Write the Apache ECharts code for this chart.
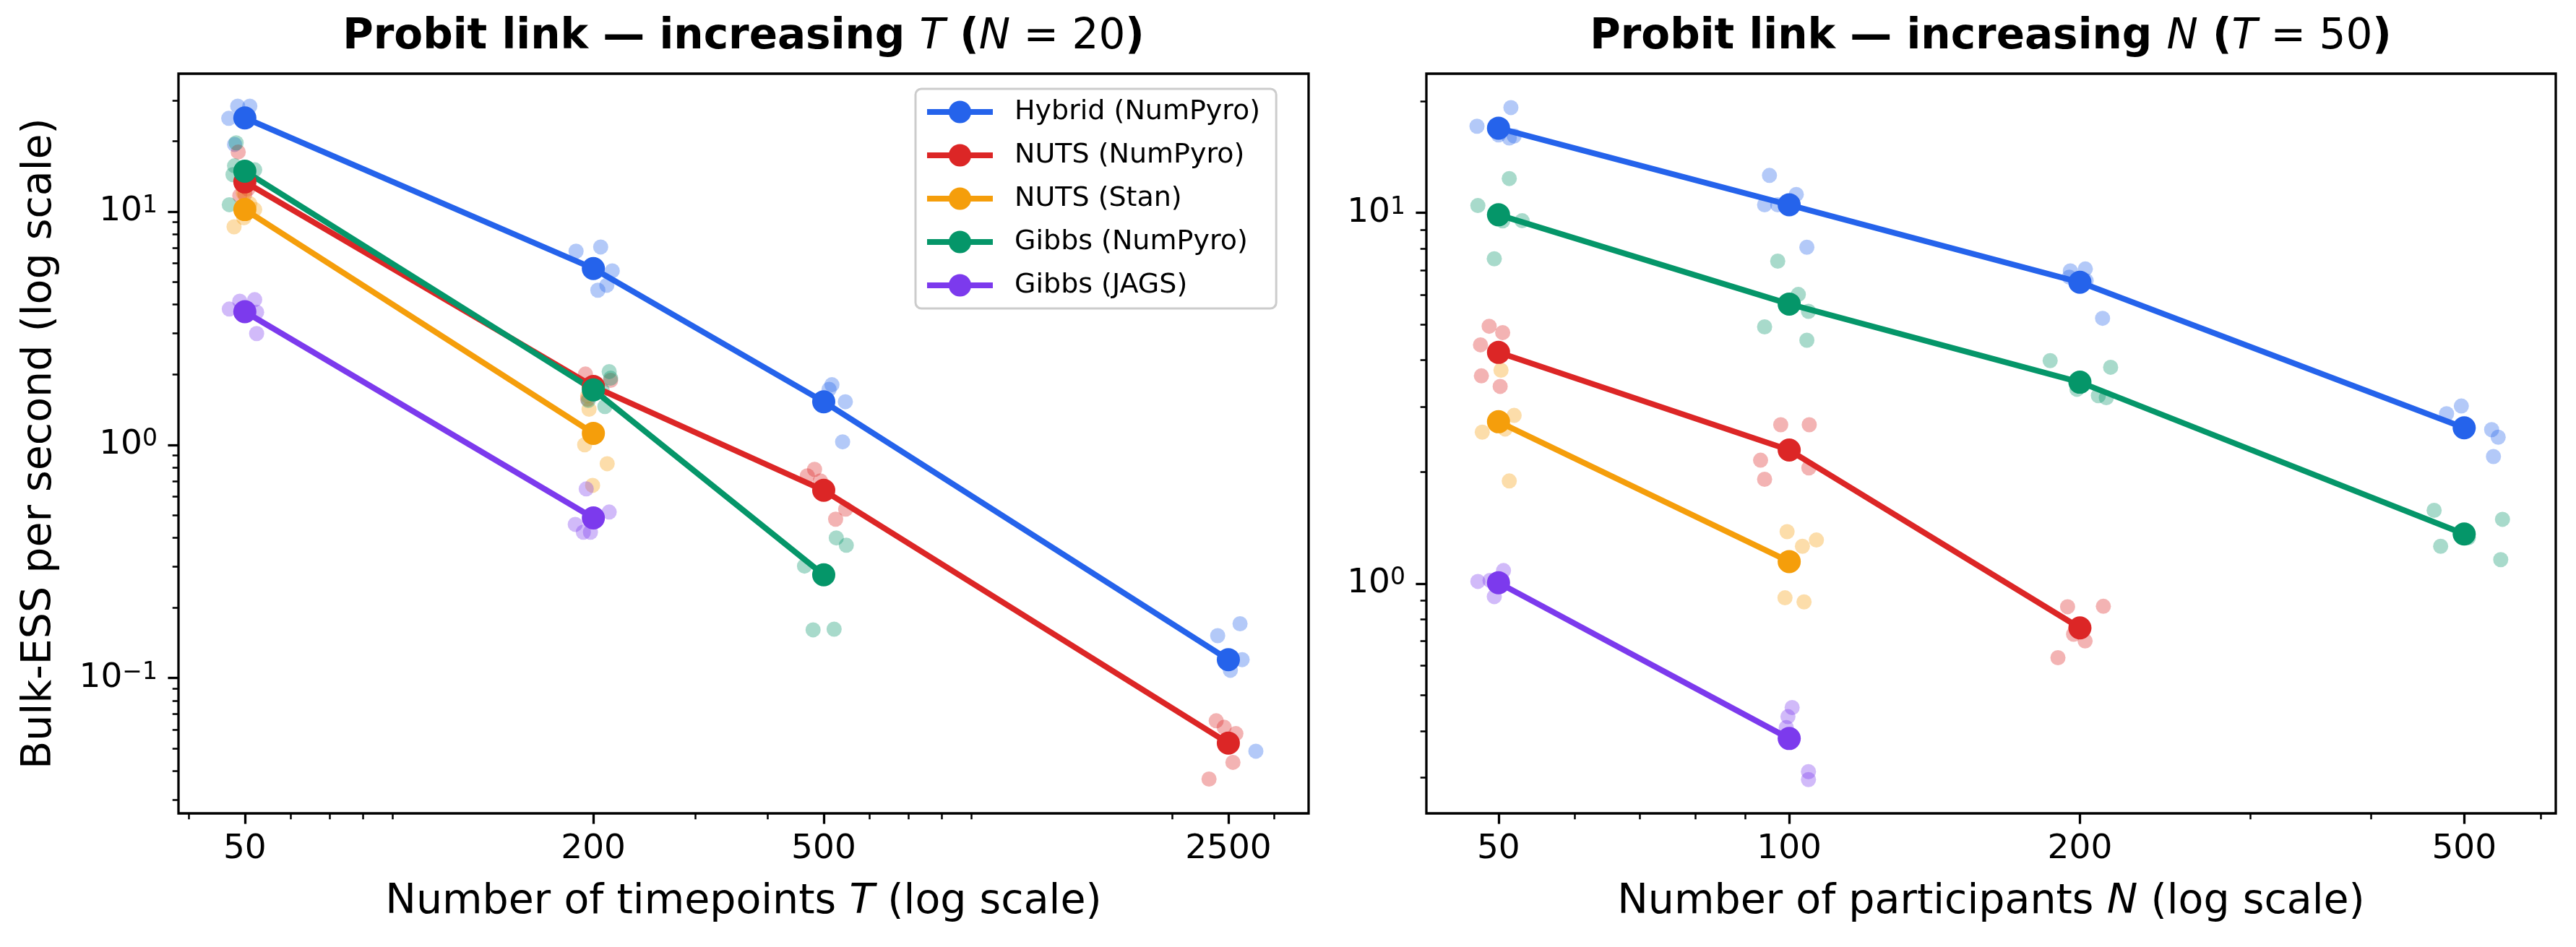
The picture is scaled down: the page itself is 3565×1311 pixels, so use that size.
<!DOCTYPE html>
<html>
<head>
<meta charset="utf-8">
<script src="https://cdn.jsdelivr.net/npm/echarts@6/dist/echarts.min.js"></script>
<style>
html, body { margin: 0; padding: 0; background: #fff; }
#chart { width: 3565px; height: 1311px; }
</style>
</head>
<body>
<div id="chart"></div>
<script>
var methods = ['Hybrid (NumPyro)', 'NUTS (NumPyro)', 'NUTS (Stan)', 'Gibbs (NumPyro)', 'Gibbs (JAGS)'];
var colors = ['#2563eb', '#dc2626', '#f59e0b', '#059669', '#7c3aed'];

// left panel: increasing T, N = 20
var tValues = [50, 200, 500, 2500];
var tMeans = [
    [25.2, 5.70, 1.53, 0.120],
    [13.4, 1.78, 0.638, 0.0526],
    [10.2, 1.12],
    [14.9, 1.72, 0.277],
    [3.72, 0.486]
];
// individual replicates [T (jittered), ESS/s]
var tRuns = [
    [[48.6, 28.3], [51.0, 28.3], [46.9, 25.1], [48.0, 19.4], [50.5, 24.9],
     [186.7, 6.76], [205.9, 7.05], [215.6, 5.57], [211.0, 4.83], [203.6, 4.60],
     [516.6, 1.81], [510.8, 1.73], [544.9, 1.53], [539.0, 1.03], [500.0, 1.55],
     [2396, 0.152], [2619, 0.171], [2641, 0.120], [2789, 0.0486], [2520, 0.108]],
    [[48.7, 18.0], [50.0, 11.9], [49.8, 12.9], [50.6, 12.5], [49.0, 11.7],
     [193.8, 2.01], [214.2, 1.89], [195.5, 1.57], [203.0, 1.75], [198.0, 1.68],
     [482.1, 0.785], [468.4, 0.736], [493.4, 0.70], [545.6, 0.53], [524.2, 0.48],
     [2382, 0.0656], [2459, 0.0615], [2576, 0.0578], [2546, 0.0435], [2315, 0.0369]],
    [[47.9, 8.6], [52.0, 10.2], [49.8, 9.4], [49.7, 12.0], [51.0, 10.8],
     [196.6, 1.42], [193.2, 1.00], [211.3, 0.83], [199.4, 0.67], [195.5, 1.62]],
    [[48.3, 19.7], [52.0, 15.1], [47.7, 14.4], [48.0, 15.7], [47.0, 10.7],
     [213.0, 2.06], [214.2, 1.93], [209.4, 1.46], [207.0, 1.72], [196.0, 1.55],
     [463.2, 0.302], [525.6, 0.399], [547.0, 0.371], [479.3, 0.161], [521.1, 0.162]],
    [[49.0, 4.13], [52.0, 4.19], [47.0, 3.82], [52.4, 3.00], [52.4, 3.70],
     [194.4, 0.647], [213.0, 0.515], [186.1, 0.456], [192.2, 0.422], [197.7, 0.422]]
];

// right panel: increasing N, T = 50
var nValues = [50, 100, 200, 500];
var nMeans = [
    [16.9, 10.5, 6.49, 2.63],
    [4.20, 2.29, 0.759],
    [2.73, 1.146],
    [9.87, 5.67, 3.49, 1.36],
    [1.005, 0.382]
];
var nRuns = [
    [[47.5, 17.1], [51.5, 19.2], [51.3, 15.9], [51.9, 16.1], [50.0, 16.2],
     [95.4, 12.6], [94.3, 10.5], [101.7, 11.2], [104.3, 8.07], [97.3, 10.5],
     [195.5, 6.97], [202.6, 7.05], [211.1, 5.19], [195.0, 6.70], [203.0, 6.55],
     [479.4, 2.87], [496.6, 3.01], [533.8, 2.60], [542.2, 2.48], [536.1, 2.20]],
    [[48.9, 4.94], [50.5, 4.75], [47.9, 4.40], [48.0, 3.63], [50.2, 3.40],
     [98.0, 2.68], [104.9, 2.68], [93.4, 2.15], [94.3, 1.91], [104.8, 2.05],
     [194.2, 0.866], [211.5, 0.868], [202.5, 0.70], [189.8, 0.631], [197.0, 0.73]],
    [[51.9, 2.84], [48.1, 2.56], [50.3, 3.76], [51.3, 1.89], [50.8, 2.61],
     [99.5, 1.38], [103.2, 1.26], [106.7, 1.31], [99.0, 0.915], [103.6, 0.892]],
    [[47.6, 10.45], [51.3, 12.36], [52.9, 9.51], [49.5, 7.51], [50.5, 9.50],
     [97.3, 7.40], [102.2, 6.02], [104.7, 5.42], [94.3, 4.92], [104.3, 4.53],
     [186.3, 3.99], [215.2, 3.83], [198.6, 3.34], [209.0, 3.21], [213.0, 3.17],
     [465.4, 1.575], [472.7, 1.26], [547.8, 1.49], [545.5, 1.16], [505.0, 1.33]],
    [[47.6, 1.013], [50.6, 1.084], [49.5, 0.922], [49.0, 1.02], [50.3, 0.986],
     [100.7, 0.463], [99.7, 0.4375], [99.3, 0.409], [104.7, 0.311], [104.7, 0.296]]
];

var tTicks = [50, 200, 500, 2500];
var nTicks = [50, 100, 200, 500];
var yTicksLeft = [0.1, 1, 10];
var yTicksRight = [1, 10];

var FONT = 'DejaVu Sans';
var log10 = function(v) { return Math.log(v) / Math.LN10; };

function minorTicks(lo, hi, majors) {
    var out = [];
    for (var d = -3; d <= 4; d++) {
        for (var k = 2; k <= 9; k++) {
            var v = k * Math.pow(10, d);
            var clash = majors.some(function(m) { return Math.abs(m - v) < 1e-9 * v; });
            if (v >= lo && v <= hi && !clash) out.push(log10(v));
        }
    }
    return out;
}

var supLabel = function(v) {
    var e = Math.round(v);
    return '{b|10}{s|' + (e < 0 ? '\u2212' + (-e) : e) + '}';
};
var plainLabel = function(v) { return String(Math.round(Math.pow(10, v))); };

var labelRich = {
    b: { fontFamily: FONT, fontSize: 47, color: '#000' },
    s: { fontFamily: FONT, fontSize: 33, color: '#000', verticalAlign: 'top', padding: [0, 0, 14, 0] }
};
var nameRich = {
    r: { fontFamily: FONT, fontSize: 57, color: '#000' },
    i: { fontFamily: FONT, fontSize: 57, color: '#000', fontStyle: 'italic' }
};

// three axes per direction: hidden log axis for data, value axis (log10) for major ticks, one for minor ticks
function axesFor(dir, g, lo, hi, majors, fmt, name, nameGap) {
    var pos = dir === 'x' ? 'bottom' : 'left';
    var base = { gridIndex: g, position: pos, splitLine: { show: false }, axisLine: { show: false, onZero: false } };
    var dataAxis = Object.assign({}, base, { type: 'log', logBase: 10, min: lo, max: hi, show: false });
    var majorAxis = Object.assign({}, base, {
        type: 'value', min: log10(lo), max: log10(hi),
        axisTick: { show: true, length: 14.6, lineStyle: { color: '#000', width: 3.3 },
                    customValues: majors.map(log10) },
        axisLabel: { show: true, margin: dir === 'x' ? 26 : 29, color: '#000', fontFamily: FONT, fontSize: 47,
                     customValues: majors.map(log10), formatter: fmt, rich: labelRich }
    });
    if (name) {
        majorAxis.name = name;
        majorAxis.nameLocation = 'middle';
        majorAxis.nameGap = nameGap;
        majorAxis.nameRotate = dir === 'x' ? 0 : 90;
        majorAxis.nameTextStyle = { fontFamily: FONT, fontSize: 57, color: '#000', rich: nameRich };
    }
    var mins = minorTicks(lo, hi, majors);
    var minorAxis = Object.assign({}, base, {
        type: 'value', min: log10(lo), max: log10(hi),
        axisTick: { show: true, length: 8.3, lineStyle: { color: '#000', width: 2.5 }, customValues: mins },
        axisLabel: { show: false, customValues: mins }
    });
    return [dataAxis, majorAxis, minorAxis];
}

var xAxes = [].concat(
    axesFor('x', 0, 38.4, 3440, tTicks, plainLabel, '{r|Number of timepoints }{i|T}{r| (log scale)}', 95),
    axesFor('x', 1, 42.1, 622, nTicks, plainLabel, '{r|Number of participants }{i|N}{r| (log scale)}', 95)
);
var yAxes = [].concat(
    axesFor('y', 0, 0.0263, 39.0, yTicksLeft, supLabel, '{r|Bulk-ESS per second (log scale)}', 163),
    axesFor('y', 1, 0.24, 23.7, yTicksRight, supLabel, null, 0)
);

var series = [];
function addPanel(g, xs, means, runs) {
    methods.forEach(function(m, i) {
        series.push({
            name: m + ' runs', type: 'scatter', xAxisIndex: 3 * g, yAxisIndex: 3 * g,
            data: runs[i], symbolSize: 21, z: 2,
            itemStyle: { color: colors[i], opacity: 0.35 },
            emphasis: { disabled: true }
        });
    });
    methods.forEach(function(m, i) {
        series.push({
            name: m, type: 'line', xAxisIndex: 3 * g, yAxisIndex: 3 * g,
            data: means[i].map(function(v, k) { return [xs[k], v]; }),
            symbol: 'circle', symbolSize: 32, showSymbol: true, z: 3,
            lineStyle: { color: colors[i], width: 8 },
            itemStyle: { color: colors[i] },
            emphasis: { disabled: true }
        });
    });
}
addPanel(0, tValues, tMeans, tRuns);
addPanel(1, nValues, nMeans, nRuns);

var titleRich = {
    b: { fontFamily: FONT, fontSize: 58, fontWeight: 'bold', fill: '#000' },
    i: { fontFamily: FONT, fontSize: 58, fontStyle: 'italic', fill: '#000' },
    r: { fontFamily: FONT, fontSize: 58, fill: '#000' }
};

var chart = echarts.init(document.getElementById('chart'), null, { renderer: 'canvas' });
chart.setOption({
    animation: false,
    backgroundColor: '#ffffff',
    grid: [
        { left: 247, top: 102, width: 1564, height: 1024, show: true, borderColor: '#000', borderWidth: 3.3, backgroundColor: 'transparent' },
        { left: 1974, top: 102, width: 1563, height: 1024, show: true, borderColor: '#000', borderWidth: 3.3, backgroundColor: 'transparent' }
    ],
    xAxis: xAxes,
    yAxis: yAxes,
    legend: {
        data: methods,
        orient: 'vertical',
        left: 1267, top: 123,
        itemWidth: 91, itemHeight: 39, itemGap: 22,
        padding: [13, 22, 13, 12],
        backgroundColor: 'rgba(255,255,255,0.8)',
        borderColor: '#cccccc', borderWidth: 3, borderRadius: 8,
        selectedMode: false,
        lineStyle: { width: 8 },
        textStyle: { fontFamily: FONT, fontSize: 38, color: '#000', padding: [0, 0, 0, 25] }
    },
    graphic: [
        { type: 'text', x: 1029, y: 52, style: {
            text: '{b|Probit link \u2014 increasing }{i|T}{b| (}{i|N}{r| = 20}{b|)}',
            rich: titleRich, align: 'center', verticalAlign: 'middle' } },
        { type: 'text', x: 2755, y: 52, style: {
            text: '{b|Probit link \u2014 increasing }{i|N}{b| (}{i|T}{r| = 50}{b|)}',
            rich: titleRich, align: 'center', verticalAlign: 'middle' } }
    ],
    series: series
});
</script>
</body>
</html>
